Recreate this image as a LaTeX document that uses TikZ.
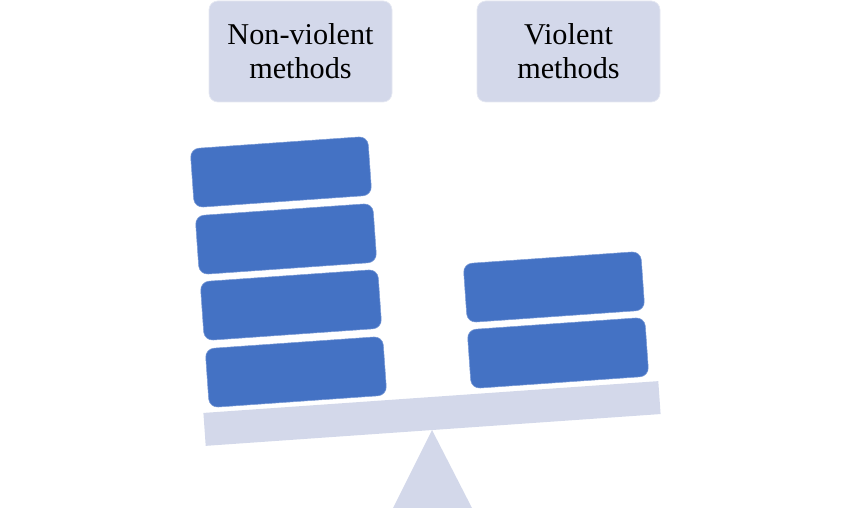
\documentclass[tikz,border=0pt]{standalone}
\usepackage{fontspec}
\setmainfont{Liberation Serif}
\usepackage{tikz}
\usetikzlibrary{positioning}
\definecolor{weightblue}{HTML}{4472C4}
\definecolor{scalegrey}{HTML}{D3D8EA}
\tikzset{
  labelbox/.style = {rounded corners=5pt, fill=scalegrey, draw=scalegrey!60!white, line width=0.4pt,
    minimum width=3.66cm, minimum height=2.02cm, align=center, inner sep=2pt,
    font=\fontsize{17.2}{19.3}\selectfont},
  weight/.style = {rounded corners=5pt, fill=weightblue, draw=weightblue!70!white, line width=0.3pt,
    minimum width=3.56cm, minimum height=1.18cm, rotate=4, inner sep=0pt},
}

\begin{document}
\begin{tikzpicture}[
  beam/.style={fill=scalegrey, minimum width=9.12cm, minimum height=0.66cm, rotate=4, inner sep=0pt}
]
\useasboundingbox (0,0) rectangle (17.28,10.16);

% Labels
\node[labelbox] (nonviolent) at (6.01,9.13) {Non-violent\\methods};
\node[labelbox] (violent) at (11.37,9.13) {Violent\\methods};

% Weights
\node[weight] (nv1) at (5.62,6.72) {};
\node[weight] (nv2) at (5.72,5.38) {};
\node[weight] (nv3) at (5.82,4.06) {};
\node[weight] (nv4) at (5.92,2.72) {};
\node[weight] (v1) at (11.08,4.42) {};
\node[weight] (v2) at (11.16,3.10) {};

% Balance
\fill[scalegrey] (8.64,1.56) coordinate (pivot) -- (9.44,0) -- (7.86,0) -- cycle;
\node[beam] (plank) at (8.64,1.89) {};

\end{tikzpicture}
\end{document}
